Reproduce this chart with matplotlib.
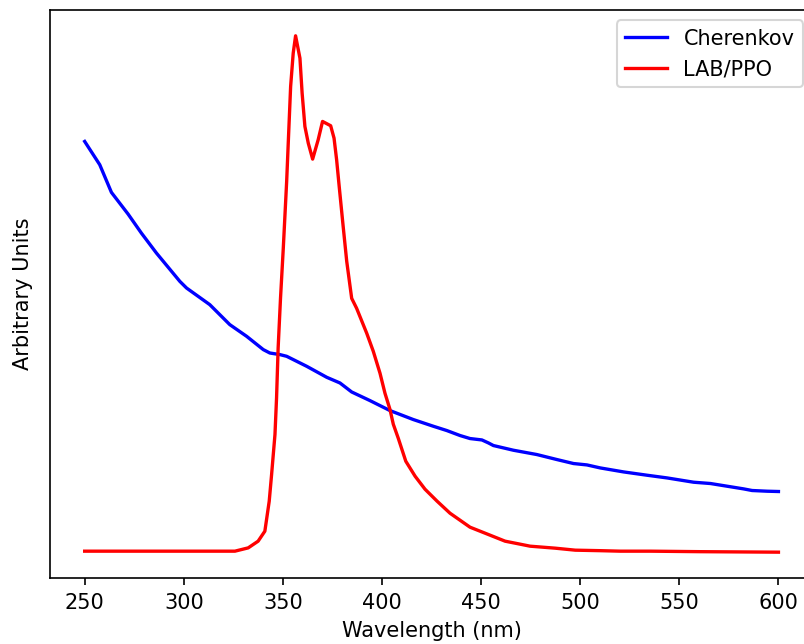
import matplotlib
matplotlib.use("Agg")
import matplotlib.pyplot as plt
import numpy as np

# Cherenkov spectrum (arbitrary units)
cher_wl = [250.0, 257.6, 263.5, 271.9, 278.6, 286.2, 298.0, 301.4, 313.1, 323.2,
           331.7, 340.1, 343.4, 348.5, 351.9, 362.0, 372.1, 378.8, 384.7, 393.9,
           404.0, 415.8, 425.9, 432.7, 439.4, 444.4, 450.4, 453.7, 456.2, 466.3,
           478.1, 488.2, 496.6, 503.4, 510.1, 521.9, 533.7, 543.8, 557.2, 565.7,
           574.1, 582.5, 586.7, 594.3, 600.0]
cher_val = [438, 414.7, 387, 365.3, 346.3, 326.3, 298, 291.3, 274.7, 254.7,
            243, 229.7, 226.3, 224.7, 223, 213, 202, 196.3, 187.3, 178.7,
            168.7, 159.7, 153, 148.7, 143.7, 140.7, 139.3, 136.3, 133.7, 129,
            124.7, 119.7, 115.7, 114.3, 111.3, 107.3, 104, 101.3, 97, 95.7,
            93, 90.3, 88.7, 88, 87.7]

# LAB/PPO emission spectrum (arbitrary units)
lab_wl = [250, 308.1, 325.8, 332.5, 337.5, 340.9, 343.1, 344.3, 346.0, 346.8,
          347.6, 348.8, 350.2, 351.9, 352.7, 353.9, 355.2, 356.4, 358.6, 359.7,
          361.1, 362.8, 365.0, 367.8, 370.0, 374.1, 375.8, 377.1, 378.4, 380.3,
          382.2, 384.7, 387.2, 392.3, 395.6, 399.0, 401.5, 404.0, 405.7, 408.2,
          412.0, 416.7, 421.7, 427.8, 434.3, 444.4, 452.0, 462.1, 469.7, 474.7,
          487.4, 497.5, 510.1, 520.2, 535.4, 560.6, 600]
lab_val = [28, 28, 28, 31.3, 38, 48, 78, 104.7, 144.7, 181.3,
           231.3, 281.3, 331.3, 398, 436.3, 493, 526.3, 543.7, 521.3, 486.3,
           453, 436.3, 420.3, 439.7, 458, 453.7, 441.3, 419.7, 393, 355,
           318, 281, 271, 246, 228, 206, 186, 170, 155, 141,
           118, 103, 90, 78, 66, 52, 46, 38, 35, 33,
           31, 29, 28.5, 28, 28, 27.5, 27]

DPI = 150
fig = plt.figure(figsize=(805 / DPI, 644 / DPI), dpi=DPI)
ax = fig.add_axes([0.0621, 0.1025, 0.948, 0.882])
ax.plot(cher_wl, cher_val, color='blue', lw=1.6, label='Cherenkov')
ax.plot(lab_wl, lab_val, color='red', lw=1.6, label='LAB/PPO')
ax.set_yticks([])
ax.set_xticks([250, 300, 350, 400, 450, 500, 550, 600])
ax.set_xlabel('Wavelength (nm)')
ax.set_ylabel('Arbitrary Units', labelpad=8)
ax.legend(loc='upper right')
fig.savefig('out.png', dpi=DPI)
